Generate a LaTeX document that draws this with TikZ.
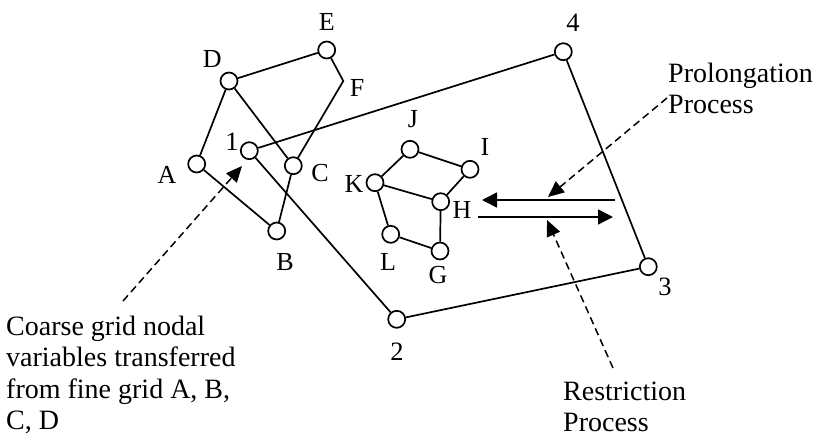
\documentclass[tikz,border=0pt]{standalone}
\usepackage{fontspec}
\setmainfont{Liberation Serif}
\usetikzlibrary{arrows.meta}
\begin{document}
\begin{tikzpicture}[x=1pt,y=-1pt,
  vtx/.style={circle,draw,fill=white,minimum size=17pt,inner sep=0pt,line width=1.7pt},
  edge/.style={line width=1.7pt},
  lbl/.style={inner sep=0pt,font=\fontsize{26}{26}\selectfont},
  num/.style={inner sep=0pt,font=\fontsize{26.5}{26.5}\selectfont},
  txt/.style={inner sep=0pt,align=left,font=\fontsize{28}{31.5}\selectfont},
  dasharrow/.style={line width=1.5pt,dash pattern=on 7.5pt off 4.5pt,-{Triangle[length=16pt,width=14pt]}},
  solidarrow/.style={line width=1.6pt,-{Triangle[length=15pt,width=15pt]}}
]
\useasboundingbox (0,0) rectangle (814,437);
% coarse grid
\node[vtx] (n1) at (249.3,150.7) {};
\node[vtx] (n2) at (396.7,319.3) {};
\node[vtx] (n3) at (648.3,266.7) {};
\node[vtx] (n4) at (563.3,51.7) {};
\draw[edge] (n1) -- (n4) -- (n3) -- (n2) -- (n1);
% fine grid 1
\node[vtx] (A) at (196.7,164) {};
\node[vtx] (B) at (276.7,231) {};
\node[vtx] (C) at (293.3,165.7) {};
\node[vtx] (D) at (229,81) {};
\node[vtx] (E) at (326.7,50) {};
\coordinate (F) at (343.3,81);
\draw[edge] (A) -- (B) -- (C) -- (D) -- (A);
\draw[edge] (D) -- (E) -- (F) -- (C);
% fine grid 2
\node[vtx] (J) at (410,149.3) {};
\node[vtx] (I) at (470,169.3) {};
\node[vtx] (K) at (375,182.7) {};
\node[vtx] (H) at (440.7,201.7) {};
\node[vtx] (L) at (390.7,234.3) {};
\node[vtx] (G) at (440,251) {};
\draw[edge] (K) -- (J) -- (I) -- (H) -- (K);
\draw[edge] (K) -- (L) -- (G) -- (H);
% labels
\node[lbl] (lE) at (326.7,22) {E};
\node[lbl] (lD) at (212.3,59) {D};
\node[lbl] (lF) at (357,88) {F};
\node[lbl] (lA) at (167,175) {A};
\node[lbl] (lC) at (320,173.5) {C};
\node[lbl] (lB) at (285,262) {B};
\node[num] (l1) at (232,142) {1};
\node[lbl] (lJ) at (413,119) {J};
\node[lbl] (lI) at (485,147) {I};
\node[lbl] (lK) at (354,184) {K};
\node[lbl] (lH) at (462,210) {H};
\node[lbl] (lL) at (388,262) {L};
\node[lbl] (lG) at (438,275) {G};
\node[num] (l4) at (573,23) {4};
\node[num] (l3) at (665,287) {3};
\node[num] (l2) at (397,352) {2};
% transfer arrows
\coordinate (ta) at (615,200);
\coordinate (tb) at (482,200);
\coordinate (ba) at (478,217);
\coordinate (bb) at (613,217);
\draw[solidarrow] (ta) -- (tb);
\draw[solidarrow] (ba) -- (bb);
% texts
\node[txt,anchor=north west] (prol) at (668,62.5) {Prolongation\\Process};
\node[txt,anchor=north west] (rest) at (563,381.5) {Restriction\\Process};
\node[txt,anchor=north west] (coarse) at (6,315.5) {Coarse grid nodal\\variables transferred\\from fine grid A, B,\\C, D};
% dashed arrows
\coordinate (ps) at (667,98);
\coordinate (pt) at (548,197);
\coordinate (rs) at (613,368);
\coordinate (rt) at (547,220);
\coordinate (cs) at (123,301);
\coordinate (ct) at (242,166);
\draw[dasharrow] (ps) -- (pt);
\draw[dasharrow] (rs) -- (rt);
\draw[dasharrow] (cs) -- (ct);
\end{tikzpicture}
\end{document}
